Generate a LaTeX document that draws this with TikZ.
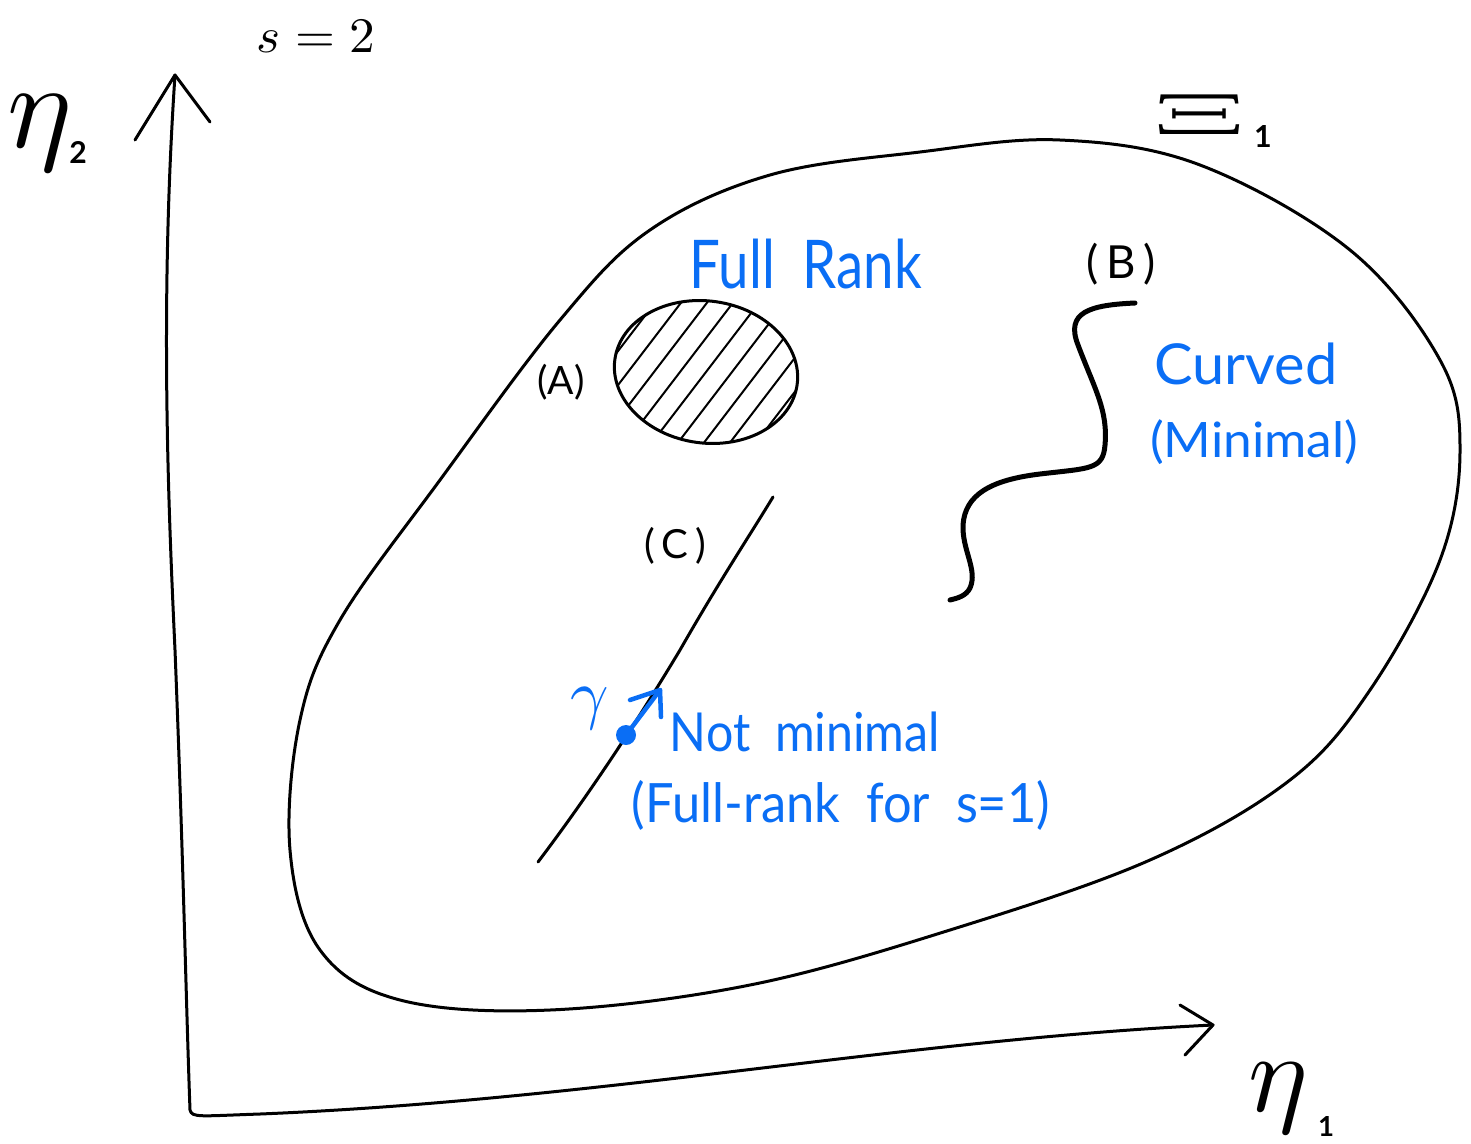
\documentclass[tikz,border=0pt]{standalone}
\usepackage{fontspec}
\setmainfont{Lato}
\usetikzlibrary{calc,shapes.geometric}
\definecolor{inkblue}{RGB}{10,110,245}
\newcommand{\fitbox}[3]{\resizebox*{#1}{#2}{#3}}
\tikzset{
  ink/.style={draw=black,line width=3pt,line cap=round,line join=round},
  thickink/.style={draw=black,line width=5pt,line cap=round,line join=round},
  blueink/.style={draw=inkblue,line width=4.5pt,line cap=round,line join=round},
  lbl/.style={inner sep=0pt,text=black},
  bluelbl/.style={inner sep=0pt,text=inkblue},
}
\begin{document}
\begin{tikzpicture}[x=1pt,y=-1pt]
\useasboundingbox (0,0) rectangle (1471,1143);
% axes
\coordinate (origin) at (190,1110);
\coordinate (ytip) at (175,75);
\coordinate (xtip) at (1213,1025);
\draw[ink] (ytip) .. controls (160,300) and (168,500) .. (175,650) .. controls (183,850) and (186,1000) .. (origin) .. controls (192,1118) and (200,1116) .. (260,1114) .. controls (600,1100) and (900,1040) .. (xtip);
\draw[ink] (135,140) -- (ytip) -- (210,122);
\draw[ink] (1180,1005) -- (xtip) -- (1185,1055);
% blob
\draw[ink] plot[smooth cycle,tension=0.6] coordinates {
 (920,152) (1060,140) (1200,165) (1350,250) (1440,360) (1460,450) (1440,560)
 (1370,690) (1290,780) (1150,860) (950,930) (750,985) (550,1010) (400,1000)
 (320,950) (290,850) (300,720) (340,620) (440,480) (560,320) (650,230) (770,175)};
% (A) hatched region
\node[ellipse,minimum width=184pt,minimum height=142pt,inner sep=0pt,rotate=-8] (A) at (706,372) {};
\begin{scope}
\clip[rotate around={-8:(706,372)}] (706,372) ellipse [x radius=92,y radius=71];
\foreach \i in {-6,...,6} {
  \draw[ink,line width=2pt] ($(706,372)+(\i*26,0)+(-65,85)$) -- ($(706,372)+(\i*26,0)+(65,-85)$);
}
\end{scope}
\draw[ink,rotate around={-8:(706,372)}] (706,372) ellipse [x radius=92,y radius=71];
% (B) curve
\coordinate (Bs) at (1135,303);
\coordinate (Be) at (950,600);
\draw[thickink] (Bs) .. controls (1090,305) and (1065,312) .. (1078,345)
  .. controls (1095,390) and (1108,410) .. (1105,445)
  .. controls (1103,470) and (1090,468) .. (1040,474)
  .. controls (990,480) and (965,495) .. (963,525)
  .. controls (962,550) and (978,570) .. (970,588) .. controls (966,596) and (958,598) .. (Be);
% (C) line
\coordinate (Cs) at (538,862);
\coordinate (Ce) at (773,497);
\draw[ink] (Cs) .. controls (600,780) and (650,700) .. (680,650) .. controls (720,580) and (750,535) .. (Ce);
% gamma tangent
\coordinate (gdot) at (626,735);
\coordinate (gtip) at (660,690);
\fill[inkblue] (gdot) circle (10pt);
\draw[blueink] (gdot) -- (gtip);
\draw[blueink] (630,700) -- (gtip) -- (661,717);
% labels
\node[lbl] (s2) at (316,36) {\fitbox{118pt}{32pt}{$s=2$}};
\node[lbl] (eta2) at (40,133) {\fitbox{!}{76pt}{$\eta$}};
\node[lbl] (eta2sub) at (78,152) {\fitbox{!}{22pt}{$\mathbf{2}$}};
\node[lbl] (Xi) at (1200,114) {\fitbox{92pt}{40pt}{$\Xi$}};
\node[lbl] (Xisub) at (1263,136) {\fitbox{!}{22pt}{$\mathbf{1}$}};
\node[lbl] (eta1) at (1278,1098) {\fitbox{!}{70pt}{$\eta$}};
\node[lbl] (eta1sub) at (1326,1126) {\fitbox{!}{20pt}{$\mathbf{1}$}};
\node[bluelbl] (fullrank) at (806,264) {\fitbox{232pt}{50pt}{Full\ \ Rank}};
\node[lbl] (labA) at (561,382) {\fitbox{!}{36pt}{(A)}};
\node[lbl] (labB) at (1121,264) {\fitbox{!}{42pt}{(\,B\,)}};
\node[lbl] (labC) at (675,546) {\fitbox{!}{37pt}{(\,C\,)}};
\node[bluelbl] (curved) at (1246,364) {\fitbox{183pt}{42pt}{Curved}};
\node[bluelbl] (minimal) at (1254,442) {\fitbox{208pt}{45pt}{(Minimal)}};
\node[bluelbl] (gamma) at (590,709) {\fitbox{!}{42pt}{$\gamma$}};
\node[bluelbl] (notmin) at (805,732) {\fitbox{270pt}{40pt}{Not\ \ minimal}};
\node[bluelbl] (fr1) at (841,805) {\fitbox{418pt}{50pt}{(Full-rank\ \ for\ \ s=1)}};
\end{tikzpicture}
\end{document}
